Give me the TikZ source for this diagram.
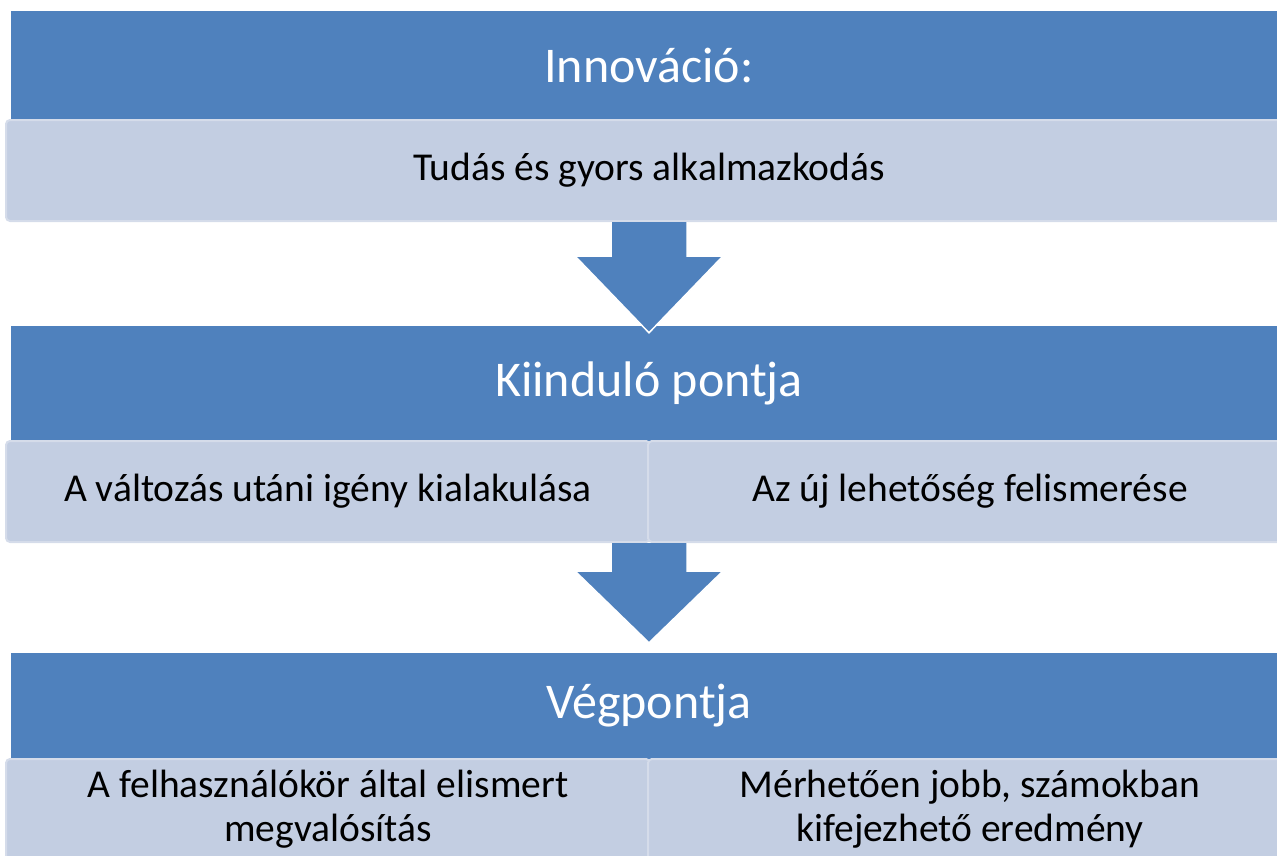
\documentclass[tikz,border=0pt]{standalone}
\usepackage{fontspec}
\setmainfont{Carlito}
\usetikzlibrary{positioning, calc}

\definecolor{headblue}{HTML}{4F81BD}
\definecolor{panelblue}{HTML}{C3CEE2}
\definecolor{panelrim}{HTML}{D5DCEA}

\begin{document}
\begin{tikzpicture}[
  x=1pt, y=-1pt,
  header/.style={rectangle, fill=headblue, text=white, minimum width=1276pt, inner sep=0pt, font=\fontsize{50}{60}\selectfont},
  panel/.style={rectangle, rounded corners=4pt, fill=panelblue, draw=panelrim, line width=2pt, align=center, inner sep=0pt, text=black, font=\fontsize{39.5}{44}\selectfont},
  bigarrow/.style={fill=headblue, draw=white, line width=1.5pt, line join=miter}
]
\useasboundingbox (0,0) rectangle (1277,855);
\clip (0,0) rectangle (1277,855);

% Innovation
\node[header, minimum height=109pt] (innovacio) at (649,65.5) {Innováció:};
\node[panel, minimum width=1286pt, minimum height=101pt] (tudas) at (649,170.5) {Tudás és gyors alkalmazkodás};

% Starting point
\node[header, minimum height=115pt] (kiindulo) at (649,383.5) {Kiinduló pontja};
\node[panel, minimum width=644pt, minimum height=101pt] (igeny) at (328,491.5) {A változás utáni igény kialakulása};
\node[panel, minimum width=644pt, minimum height=101pt] (lehetoseg) at (970,491.5) {Az új lehetőség felismerése};

% End point
\node[header, minimum height=106pt] (vegpont) at (649,706) {Végpontja};
\node[panel, minimum width=644pt, minimum height=101pt] (elismert) at (328,809.5) {A felhasználókör által elismert\\megvalósítás};
\node[panel, minimum width=644pt, minimum height=101pt] (eredmeny) at (970,809.5) {Mérhetően jobb, számokban\\kifejezhető eredmény};

% Arrows
\filldraw[bigarrow] ($(tudas.south)+(-38,0)$) -- ++(0,34) -- ++(-36,0)
  -- ($(kiindulo.north)+(0,7)$) -- ($(tudas.south)+(74,34)$) -- ++(-36,0) -- ++(0,-34);
\coordinate (split) at ($(igeny.south east)!0.5!(lehetoseg.south west)$);
\filldraw[bigarrow] ($(split)+(-38,0)$) -- ++(0,28) -- ++(-36,0)
  -- ($(vegpont.north)+(0,-10)$) -- ($(split)+(74,28)$) -- ++(-36,0) -- ++(0,-28);

\end{tikzpicture}
\end{document}
